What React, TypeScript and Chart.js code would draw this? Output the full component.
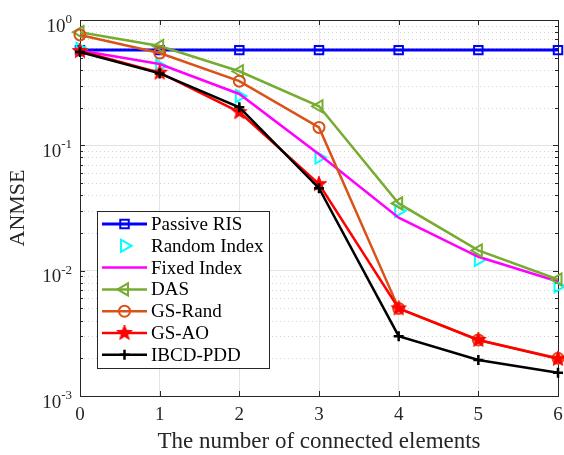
import React, { useEffect, useRef } from 'react';
import { Chart, registerables } from 'chart.js';
import { drawPoint } from 'chart.js/helpers';

Chart.register(...registerables);

const categories = ['0', '1', '2', '3', '4', '5', '6'];
const passiveRIS = [0.575, 0.575, 0.575, 0.575, 0.575, 0.575, 0.575];
const randomIndex = [0.59, 0.43, 0.247, 0.08, 0.03, 0.0122, 0.0075];
const fixedIndex = [0.57, 0.445, 0.257, 0.085, 0.0265, 0.0129, 0.0082];
const das = [0.8, 0.62, 0.39, 0.205, 0.0344, 0.0145, 0.0085];
const gsRand = [0.76, 0.545, 0.325, 0.139, 0.005, 0.0028, 0.002];
const gsAO = [0.565, 0.38, 0.184, 0.049, 0.005, 0.0028, 0.00198];
const ibcdPDD = [0.555, 0.375, 0.201, 0.0455, 0.003, 0.00194, 0.00153];

const yMajorTicks = [1, 0.1, 0.01, 0.001];
const yTickExponents = ['0', '-1', '-2', '-3'];
const seriesNames = ['Passive RIS', 'Random Index', 'Fixed Index', 'DAS', 'GS-Rand', 'GS-AO', 'IBCD-PDD'];

const FONT = "'Liberation Serif', 'Times New Roman', serif";

function makePentagram(color: string, outer: number): HTMLCanvasElement {
  const size = Math.ceil(outer * 2 + 4);
  const c = document.createElement('canvas');
  c.width = size;
  c.height = size;
  const ctx = c.getContext('2d')!;
  const cx = size / 2;
  const cy = size / 2;
  const inner = outer * 0.42;
  ctx.beginPath();
  for (let i = 0; i < 10; i++) {
    const r = i % 2 === 0 ? outer : inner;
    const a = -Math.PI / 2 + (i * Math.PI) / 5;
    const px = cx + r * Math.cos(a);
    const py = cy + r * Math.sin(a);
    if (i === 0) ctx.moveTo(px, py);
    else ctx.lineTo(px, py);
  }
  ctx.closePath();
  ctx.fillStyle = color;
  ctx.fill();
  ctx.strokeStyle = color;
  ctx.lineWidth = 1;
  ctx.stroke();
  return c;
}

const framePlugin = {
  id: 'matlabFrame',
  beforeDatasetsDraw(chart: any) {
    const { ctx, chartArea } = chart;
    const ys = chart.scales.y;
    const { left, right, top, bottom } = chartArea;
    ctx.save();
    // minor dotted grid
    ctx.strokeStyle = '#d2d2d2';
    ctx.lineWidth = 1;
    ctx.setLineDash([1, 3]);
    for (let d = -3; d < 0; d++) {
      for (let k = 2; k <= 9; k++) {
        const v = k * Math.pow(10, d);
        const y = Math.round(ys.getPixelForValue(v)) + 0.5;
        ctx.beginPath();
        ctx.moveTo(left, y);
        ctx.lineTo(right, y);
        ctx.stroke();
      }
    }
    ctx.setLineDash([]);
    // box
    ctx.strokeStyle = '#262626';
    ctx.lineWidth = 1;
    ctx.strokeRect(Math.round(left) + 0.5, Math.round(top) + 0.5, Math.round(right - left), Math.round(bottom - top));
    // y ticks inward on left and right
    for (let d = -3; d <= 0; d++) {
      for (let k = 1; k <= 9; k++) {
        const v = k * Math.pow(10, d);
        if (v > 1.0001) break;
        const y = Math.round(ys.getPixelForValue(v)) + 0.5;
        const len = k === 1 ? 5 : 3;
        ctx.beginPath();
        ctx.moveTo(left, y);
        ctx.lineTo(left + len, y);
        ctx.moveTo(right, y);
        ctx.lineTo(right - len, y);
        ctx.stroke();
      }
    }
    // x ticks inward on top and bottom
    const xs = chart.scales.x;
    for (let i = 0; i < categories.length; i++) {
      const x = Math.round(xs.getPixelForValue(i)) + 0.5;
      ctx.beginPath();
      ctx.moveTo(x, bottom);
      ctx.lineTo(x, bottom - 5);
      ctx.moveTo(x, top);
      ctx.lineTo(x, top + 5);
      ctx.stroke();
    }
    // y tick labels with superscripts
    ctx.fillStyle = '#262626';
    ctx.textBaseline = 'alphabetic';
    yMajorTicks.forEach((v, i) => {
      const y = ys.getPixelForValue(v);
      ctx.font = `13px ${FONT}`;
      const ew = ctx.measureText(yTickExponents[i]).width;
      const expRight = left - 8;
      ctx.textAlign = 'right';
      ctx.fillText(yTickExponents[i], expRight, y + 3);
      ctx.font = `19px ${FONT}`;
      ctx.fillText('10', expRight - ew, y + 11.5);
    });
    ctx.restore();
  },
  afterDraw(chart: any) {
    const { ctx } = chart;
    ctx.save();
    const bx = 97, by = 211, bw = 172, bh = 157;
    ctx.fillStyle = '#ffffff';
    ctx.fillRect(bx, by, bw, bh);
    ctx.strokeStyle = '#262626';
    ctx.lineWidth = 1;
    ctx.strokeRect(bx + 0.5, by + 0.5, bw, bh);
    chart.data.datasets.forEach((ds: any, i: number) => {
      const y = 224 + i * 21.8;
      if (ds.showLine !== false) {
        ctx.strokeStyle = ds.borderColor;
        ctx.lineWidth = ds.borderWidth;
        ctx.beginPath();
        ctx.moveTo(102, y);
        ctx.lineTo(147, y);
        ctx.stroke();
      }
      if (ds.pointRadius > 0) {
        ctx.strokeStyle = ds.pointBorderColor;
        ctx.fillStyle = ds.pointBackgroundColor;
        ctx.lineWidth = ds.pointBorderWidth;
        drawPoint(ctx, {
          pointStyle: ds.pointStyle,
          rotation: ds.pointRotation || 0,
          radius: ds.pointRadius,
          borderWidth: ds.pointBorderWidth,
        } as any, 124.5, y);
      }
      ctx.fillStyle = '#000000';
      ctx.font = `19px ${FONT}`;
      ctx.textAlign = 'left';
      ctx.textBaseline = 'middle';
      ctx.fillText(ds.label, 151, y + 1);
    });
    ctx.restore();
  },
};

export default function App() {
  const ref = useRef<HTMLCanvasElement | null>(null);
  useEffect(() => {
    if (!ref.current) return;
    const star = makePentagram('#ff0000', 8);
    const base = (label: string, data: number[], color: string, extra: any) => ({
      label,
      data,
      borderColor: color,
      backgroundColor: color,
      borderWidth: 2.5,
      pointBorderColor: color,
      pointBackgroundColor: 'rgba(0,0,0,0)',
      pointBorderWidth: 2,
      clip: false,
      tension: 0,
      ...extra,
    });
    const datasets = [
      base(seriesNames[0], passiveRIS, '#0000ff', { pointStyle: 'rect', pointRadius: 6, borderWidth: 3, order: 7 }),
      base(seriesNames[1], randomIndex, '#00ffff', { pointStyle: 'triangle', pointRotation: 90, pointRadius: 7, showLine: false, order: 6 }),
      base(seriesNames[2], fixedIndex, '#ff00ff', { pointRadius: 0, order: 5 }),
      base(seriesNames[3], das, '#77ac30', { pointStyle: 'triangle', pointRotation: -90, pointRadius: 7, order: 4 }),
      base(seriesNames[4], gsRand, '#d95319', { pointStyle: 'circle', pointRadius: 5.5, order: 3 }),
      base(seriesNames[5], gsAO, '#ff0000', { pointStyle: star, pointRadius: 8, pointBackgroundColor: '#ff0000', order: 2 }),
      base(seriesNames[6], ibcdPDD, '#000000', { pointStyle: 'cross', pointRadius: 5, pointBorderWidth: 2.5, order: 1 }),
    ];
    const chart = new Chart(ref.current, {
      type: 'line',
      data: { labels: categories, datasets },
      plugins: [framePlugin],
      options: {
        animation: false,
        responsive: true,
        maintainAspectRatio: false,
        layout: { autoPadding: false, padding: { top: 20, right: 6, left: 0, bottom: 0 } },
        plugins: { legend: { display: false }, tooltip: { enabled: false } },
        scales: {
          x: {
            type: 'category',
            offset: false,
            grid: { color: '#e3e3e3', drawTicks: false, lineWidth: 1 },
            border: { display: false },
            ticks: { color: '#262626', font: { family: FONT, size: 19 }, padding: 8, maxRotation: 0, autoSkip: false },
            title: {
              display: true,
              text: 'The number of connected elements',
              color: '#262626',
              font: { family: FONT, size: 23 },
              padding: { top: 0, bottom: -1 },
            },
            afterFit: (s: any) => { s.height = 59; s.paddingLeft = 0; s.paddingRight = 0; },
          },
          y: {
            type: 'logarithmic',
            min: 0.001,
            max: 1,
            grid: {
              drawTicks: false,
              color: (c: any) => {
                const v = c.tick ? c.tick.value : 0;
                const l = Math.log10(v);
                return Math.abs(l - Math.round(l)) < 1e-6 ? '#e3e3e3' : 'rgba(0,0,0,0)';
              },
            },
            border: { display: false },
            ticks: { display: false, padding: 0 },
            title: {
              display: true,
              text: 'ANMSE',
              color: '#262626',
              font: { family: FONT, size: 22 },
              padding: { top: 5, bottom: 0 },
            },
            afterFit: (s: any) => { s.width = 80; s.paddingTop = 0; s.paddingBottom = 0; },
          },
        },
      },
    });
    return () => chart.destroy();
  }, []);
  return (
    <div style={{ position: 'fixed', left: 0, top: 0, width: 564, height: 455, background: '#fff' }}>
      <canvas ref={ref} />
    </div>
  );
}
